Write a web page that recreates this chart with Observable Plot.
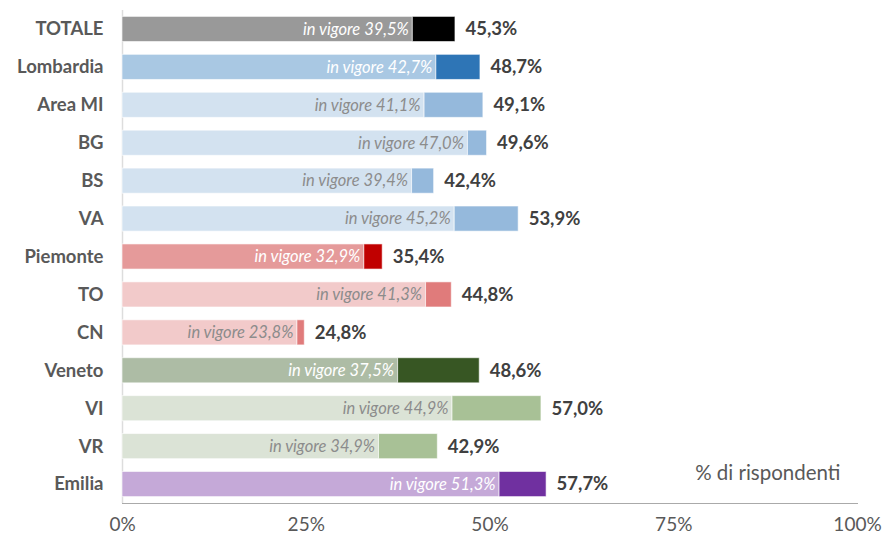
<!DOCTYPE html>
<html>
<head>
<meta charset="utf-8">
<script src="https://cdn.jsdelivr.net/npm/d3@7"></script>
<script src="https://cdn.jsdelivr.net/npm/@observablehq/plot@0.6"></script>
<style>
  html, body { margin: 0; padding: 0; background: #fff; }
  #chart { width: 883px; height: 538px; }
</style>
</head>
<body>
<div id="chart"></div>
<script>
// Regions and their response shares (%)
const regions = ["TOTALE", "Lombardia", "Area MI", "BG", "BS", "VA", "Piemonte", "TO", "CN", "Veneto", "VI", "VR", "Emilia"];
const inVigore = [39.5, 42.7, 41.1, 47.0, 39.4, 45.2, 32.9, 41.3, 23.8, 37.5, 44.9, 34.9, 51.3];
const totale = [45.3, 48.7, 49.1, 49.6, 42.4, 53.9, 35.4, 44.8, 24.8, 48.6, 57.0, 42.9, 57.7];

// Palette per row: base segment, increment segment, inner label
const lightColors = ["#999999", "#a9c8e3", "#d3e2f0", "#d3e2f0", "#d3e2f0", "#d3e2f0", "#e59a9a", "#f2caca", "#f2caca", "#adbca5", "#dbe3d6", "#dbe3d6", "#c5a9d8"];
const darkColors = ["#000000", "#2e75b6", "#95b9dc", "#95b9dc", "#95b9dc", "#95b9dc", "#c00000", "#e07b7b", "#e07b7b", "#375623", "#a8c196", "#a8c196", "#7030a0"];
const innerLabelColors = ["#ffffff", "#ffffff", "#8c8c8c", "#8c8c8c", "#8c8c8c", "#8c8c8c", "#ffffff", "#8c8c8c", "#8c8c8c", "#ffffff", "#8c8c8c", "#8c8c8c", "#ffffff"];

const xTicks = [0, 25, 50, 75, 100];

const rows = regions.map((region, i) => ({
  region,
  inVigore: inVigore[i],
  totale: totale[i],
  light: lightColors[i],
  dark: darkColors[i],
  innerColor: innerLabelColors[i]
}));

const fmt = v => d3.format(".1f")(v).replace(".", ",") + "%";

const barInset = 6.4;

const chart = Plot.plot({
  width: 883,
  height: 538,
  marginLeft: 122,
  marginRight: 26,
  marginTop: 10,
  marginBottom: 35,
  style: { fontFamily: "Lato, 'Open Sans', sans-serif", background: "#fff" },
  x: { domain: [0, 100], axis: null, label: null },
  y: { domain: regions, padding: 0, round: false, axis: null, label: null },
  marks: [
    Plot.ruleX([0], { stroke: "#dddddd", strokeWidth: 1.5 }),
    Plot.frame({ anchor: "bottom", stroke: "#aaaaaa" }),
    Plot.axisX(xTicks, {
      anchor: "bottom",
      label: null,
      tickSize: 0,
      tickPadding: 14,
      tickFormat: d => d + "%",
      fontSize: 19,
      fill: "#595959"
    }),
    Plot.axisY({
      anchor: "left",
      label: null,
      tickSize: 0,
      tickPadding: 19,
      fontSize: 18.5,
      fontWeight: "bold",
      fill: "#595959"
    }),
    Plot.barX(rows, {
      y: "region", x1: 0, x2: "inVigore",
      insetTop: barInset, insetBottom: barInset,
      fill: d => d.light, stroke: "#ffffff", strokeOpacity: 0.6, strokeWidth: 1
    }),
    Plot.barX(rows, {
      y: "region", x1: "inVigore", x2: "totale",
      insetTop: barInset, insetBottom: barInset,
      fill: d => d.dark, stroke: "#ffffff", strokeOpacity: 0.6, strokeWidth: 1
    }),
    Plot.text(rows, {
      y: "region", x: "inVigore",
      text: d => "in vigore " + fmt(d.inVigore),
      textAnchor: "end", dx: -4,
      fill: d => d.innerColor,
      fontSize: 16.5, fontStyle: "italic"
    }),
    Plot.text(rows, {
      y: "region", x: "totale",
      text: d => fmt(d.totale),
      textAnchor: "start", dx: 10,
      fill: "#404040",
      fontSize: 18.5, fontWeight: "bold"
    }),
    Plot.text(["% di rispondenti"], {
      frameAnchor: "bottom-right",
      dx: -17, dy: -24,
      fill: "#595959",
      fontSize: 20.5
    })
  ]
});

document.getElementById("chart").appendChild(chart);
</script>
</body>
</html>
